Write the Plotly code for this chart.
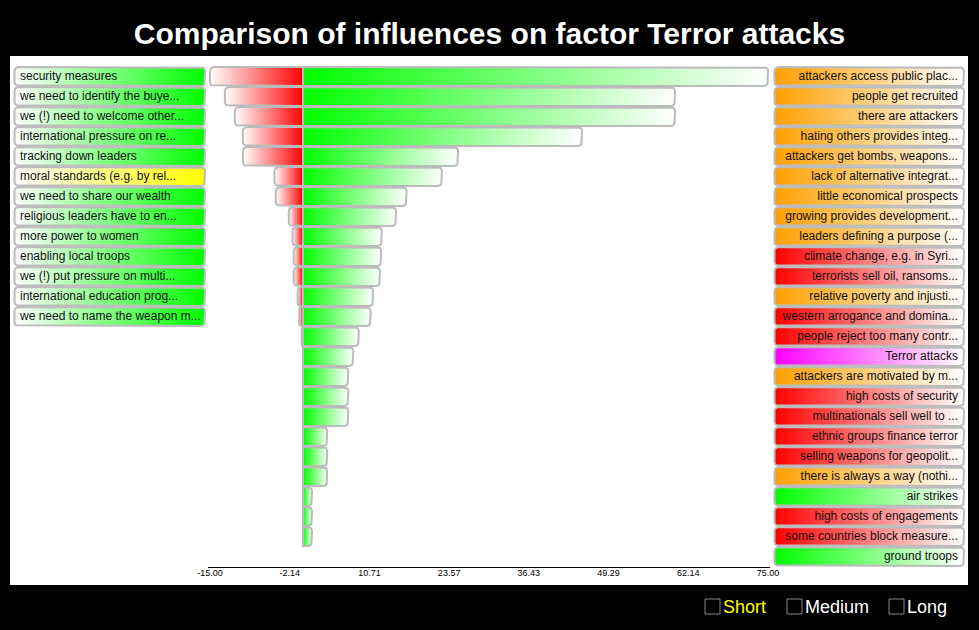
import numpy as np
import plotly.graph_objects as go

# --- DATA ---
title = "Comparison of influences on factor Terror attacks"

left_labels = [
    "security measures",
    "we need to identify the buye...",
    "we (!) need to welcome other...",
    "international pressure on re...",
    "tracking down leaders",
    "moral standards (e.g. by rel...",
    "we need to share our wealth",
    "religious leaders have to en...",
    "more power to women",
    "enabling local troops",
    "we (!) put pressure on multi...",
    "international education prog...",
    "we need to name the weapon m...",
]
left_kind = ["green"] * 5 + ["yellow"] + ["green"] * 7

right_labels = [
    "attackers access public plac...",
    "people get recruited",
    "there are attackers",
    "hating others provides integ...",
    "attackers get bombs, weapons...",
    "lack of alternative integrat...",
    "little economical prospects",
    "growing provides development...",
    "leaders defining a purpose (...",
    "climate change, e.g. in Syri...",
    "terrorists sell oil, ransoms...",
    "relative poverty and injusti...",
    "western arrogance and domina...",
    "people reject too many contr...",
    "Terror attacks",
    "attackers are motivated by m...",
    "high costs of security",
    "multinationals sell well to ...",
    "ethnic groups finance terror",
    "selling weapons for geopolit...",
    "there is always a way (nothi...",
    "air strikes",
    "high costs of engagements",
    "some countries block measure...",
    "ground troops",
]
right_kind = ["orange"] * 9 + ["red", "red", "orange", "red", "red", "magenta",
                               "orange", "red", "red", "red", "red", "orange",
                               "green", "red", "red", "green"]

neg_vals = [-15, -12.6, -11.0, -9.7, -9.7, -4.6, -4.4, -2.3, -1.7, -1.5, -1.5, -0.85,
            -0.6, -0.2, 0, 0, 0, 0, 0, 0, 0, 0, 0, 0]
pos_vals = [75, 60, 60, 45, 25, 22.4, 16.7, 15.0, 12.7, 12.6, 12.4, 11.3,
            10.9, 9.0, 8.1, 7.3, 7.3, 7.3, 3.9, 3.9, 3.9, 1.45, 1.45, 1.45]

x_min, x_max = -15, 75
tick_vals = np.linspace(x_min, x_max, 8)
legend_items = ["Short", "Medium", "Long"]

# --- GEOMETRY (pixels) ---
W, H = 979, 630
ROW_PX = 20
PX_PER_UNIT = 6.2
ZERO_PX = 303
PAD = 0.4
y_range = [(H - 56.5) / ROW_PX, -56.5 / ROW_PX]   # row r centred at 56.5 + 20 r px

colors = {"green": "#00ff00", "yellow": "#ffff00", "orange": "#ffa000",
          "red": "#ff0000", "magenta": "#ff00ff"}
BORDER = "#bbbbbb"
FONT = "Liberation Sans"


def rounded_rect(x0, x1, yc, sx, sy, rl=4, rr=4, hh=9.4):
    w = (x1 - x0) * sx
    rl, rr = min(rl, w / 2), min(rr, w / 2)
    t = np.linspace(0, np.pi / 2, 7)
    u, v = [], []
    for cu, cv, r, a0 in [(rl, -hh + rl, rl, np.pi), (w - rr, -hh + rr, rr, 1.5 * np.pi),
                          (w - rr, hh - rr, rr, 0), (rl, hh - rl, rl, 0.5 * np.pi)]:
        u.extend(cu + r * np.cos(a0 + t))
        v.extend(cv + r * np.sin(a0 + t))
    u.append(u[0])
    v.append(v[0])
    return [x0 + a / sx for a in u], [yc + b / sy for b in v]


def box_trace(x0, x1, yc, sx, c0, c1, xaxis, rl=4, rr=4):
    xs, ys = rounded_rect(x0, x1, yc, sx, ROW_PX, rl, rr)
    return go.Scatter(
        x=xs, y=ys, xaxis=xaxis, yaxis="y", mode="lines", fill="toself",
        fillgradient=dict(type="horizontal", colorscale=[[0, c0], [1, c1]],
                          start=x0, stop=x1),
        line=dict(color=BORDER, width=2), hoverinfo="skip", showlegend=False)


fig = go.Figure()

# --- BARS ---
for i, (n, p) in enumerate(zip(neg_vals, pos_vals)):
    row = i + 1
    if n < 0:
        fig.add_trace(box_trace(n, 0, row, PX_PER_UNIT, "#ffffff", "#ff0000", "x", rl=4, rr=0))
    fig.add_trace(box_trace(0, p, row, PX_PER_UNIT, "#00ff00", "#ffffff", "x", rl=0, rr=4))

# --- LEFT LABEL BOXES ---
for i, (lab, k) in enumerate(zip(left_labels, left_kind)):
    fig.add_trace(box_trace(4.5, 195, i + 1, 1, "#ffffff", colors[k], "x2"))
fig.add_trace(go.Scatter(
    x=[10] * len(left_labels), y=list(range(1, len(left_labels) + 1)), text=left_labels,
    xaxis="x2", yaxis="y", mode="text", textposition="middle right",
    textfont=dict(family=FONT, size=12, color="#111111"), hoverinfo="skip", showlegend=False))

# --- RIGHT LABEL BOXES ---
for i, (lab, k) in enumerate(zip(right_labels, right_kind)):
    fig.add_trace(box_trace(4.5, 194, i + 1, 1, colors[k], "#ffffff", "x3"))
fig.add_trace(go.Scatter(
    x=[188] * len(right_labels), y=list(range(1, len(right_labels) + 1)), text=right_labels,
    xaxis="x3", yaxis="y", mode="text", textposition="middle left",
    textfont=dict(family=FONT, size=12, color="#111111"), hoverinfo="skip", showlegend=False))

# --- LAYOUT ---
x_lo, x_hi = x_min - PAD, x_max + PAD
dom = [(ZERO_PX + x_lo * PX_PER_UNIT) / W, (ZERO_PX + x_hi * PX_PER_UNIT) / W]

shapes = [dict(type="rect", xref="paper", yref="paper", x0=10 / W, x1=968 / W,
               y0=1 - 585 / H, y1=1 - 56 / H, fillcolor="white", line_width=0, layer="below")]
annotations = []
leg_x = [705, 787, 889]
for lab, lx in zip(legend_items, leg_x):
    shapes.append(dict(type="rect", xref="paper", yref="paper", x0=lx / W, x1=(lx + 15) / W,
                       y0=1 - 614 / H, y1=1 - 599 / H, line=dict(color="#888888", width=1)))
    annotations.append(dict(text=lab, xref="paper", yref="paper", x=(lx + 16) / W,
                            y=1 - 606.5 / H, xanchor="left", yanchor="middle", showarrow=False,
                            font=dict(family=FONT, size=18,
                                      color="#ffff00" if lab == "Short" else "white")))

fig.update_layout(
    width=W, height=H,
    margin=dict(l=0, r=0, t=0, b=0, autoexpand=False),
    paper_bgcolor="black", plot_bgcolor="rgba(0,0,0,0)",
    title=dict(text="<b>" + title + "</b>", x=0.5, xanchor="center", y=1 - 33 / H,
               yanchor="middle", font=dict(family=FONT, size=30, color="white")),
    xaxis=dict(domain=dom, range=[x_lo, x_hi], tickvals=tick_vals,
               ticktext=[f"{v:.2f}" for v in tick_vals], anchor="free", position=1 - 567 / H,
               showline=True, linecolor="black", linewidth=1, ticks="", showgrid=False,
               zeroline=False, automargin=False, ticklabelstandoff=-3,
               tickfont=dict(family=FONT, size=9, color="black")),
    xaxis2=dict(domain=[10 / W, 210 / W], range=[0, 200], visible=False),
    xaxis3=dict(domain=[770 / W, 970 / W], range=[0, 200], visible=False),
    yaxis=dict(domain=[0, 1], range=y_range, visible=False),
    shapes=shapes, annotations=annotations,
    showlegend=False,
)

# page margin off so the figure fills the window
fig.write_html("out.html", config={"responsive": False, "displayModeBar": False},
               post_script="document.body.style.margin='0';document.body.style.overflow='hidden';")
